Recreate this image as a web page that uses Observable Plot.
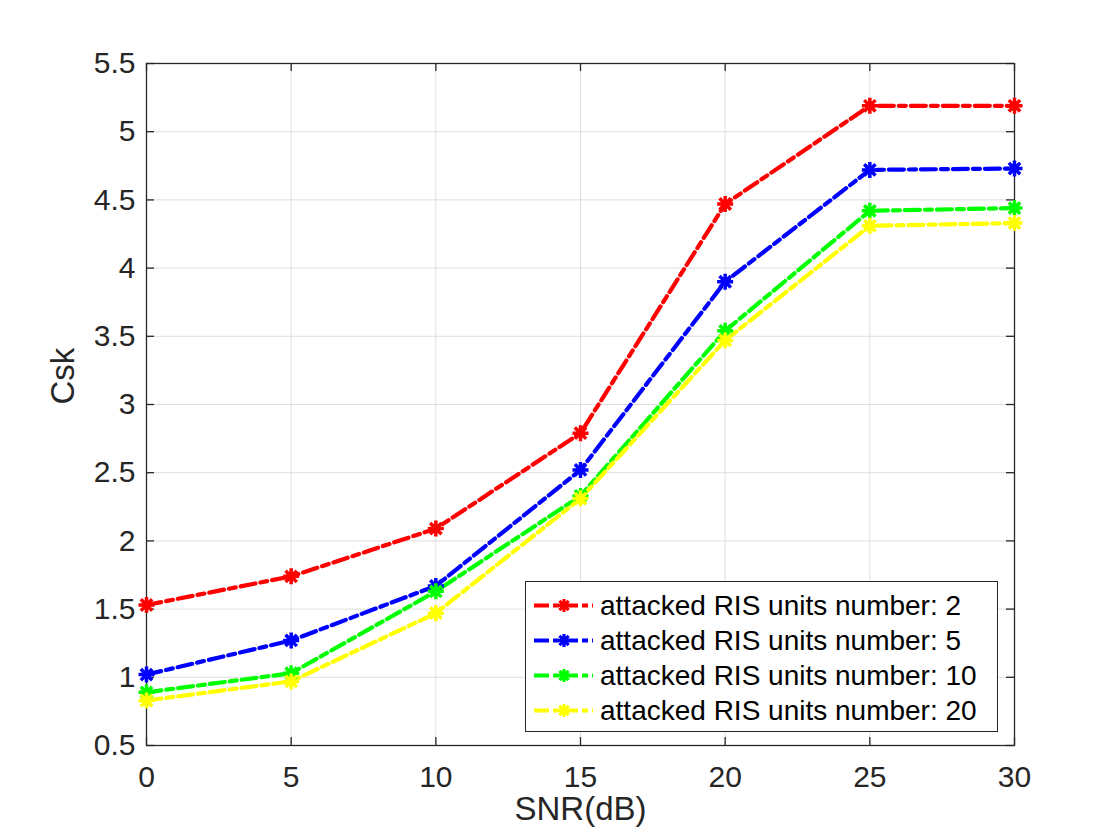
<!DOCTYPE html>
<html>
<head>
<meta charset="utf-8">
<script src="https://cdn.jsdelivr.net/npm/d3@7"></script>
<script src="https://cdn.jsdelivr.net/npm/@observablehq/plot@0.6"></script>
<style>
  html, body { margin: 0; padding: 0; background: #fff; }
  #wrap { position: relative; width: 1120px; height: 840px; font-family: "Liberation Sans", Arial, Helvetica, sans-serif; }
  #legend { position: absolute; left: 525px; top: 581px; width: 473px; height: 151px; border: 1.2px solid #262626; background: #fff; box-sizing: border-box; }
  .row { position: absolute; left: 0; height: 35px; display: flex; align-items: center; }
  .row span { font-size: 28px; color: #000; margin-left: 4px; white-space: nowrap; }
</style>
</head>
<body>
<div id="wrap"><div id="legend"></div></div>
<script>
// ---- data ----
const snr = [0, 5, 10, 15, 20, 25, 30];
const seriesNames = [
  "attacked RIS units number: 2",
  "attacked RIS units number: 5",
  "attacked RIS units number: 10",
  "attacked RIS units number: 20"
];
const csk2  = [1.53, 1.74, 2.09, 2.79, 4.47, 5.19, 5.19];
const csk5  = [1.02, 1.27, 1.67, 2.52, 3.90, 4.72, 4.73];
const csk10 = [0.89, 1.03, 1.63, 2.33, 3.54, 4.42, 4.44];
const csk20 = [0.83, 0.97, 1.47, 2.31, 3.47, 4.31, 4.33];
const seriesColors = ["#ff0000", "#0000ff", "#00ff00", "#ffff00"];
const xTicks = [0, 5, 10, 15, 20, 25, 30];
const yTicks = [0.5, 1, 1.5, 2, 2.5, 3, 3.5, 4, 4.5, 5, 5.5];
const xLabel = "SNR(dB)";
const yLabel = "Csk";

const allSeries = [csk2, csk5, csk10, csk20];
const rows = [];
allSeries.forEach((vals, s) => vals.forEach((v, i) => rows.push({series: seriesNames[s], snr: snr[i], csk: v})));

// 8-spoke asterisk marker like MATLAB "*"
const star8 = {
  draw(ctx, size) {
    const r = Math.sqrt(size / Math.PI);
    for (let k = 0; k < 4; k++) {
      const a = k * Math.PI / 4;
      ctx.moveTo(r * Math.cos(a), r * Math.sin(a));
      ctx.lineTo(-r * Math.cos(a), -r * Math.sin(a));
    }
  }
};

const ink = "#262626";
const dash = "15,5,7,5";

const chart = Plot.plot({
  width: 1120,
  height: 840,
  marginLeft: 146,
  marginRight: 106,
  marginTop: 63,
  marginBottom: 95,
  style: {fontFamily: "'Liberation Sans', Arial, Helvetica, sans-serif", color: ink, background: "#fff"},
  x: {domain: [0, 30], axis: null},
  y: {domain: [0.5, 5.5], axis: null},
  color: {domain: seriesNames, range: seriesColors},
  marks: [
    Plot.ruleX(xTicks, {x: d => d, stroke: "#dedede", strokeWidth: 1}),
    Plot.ruleY(yTicks, {y: d => d, stroke: "#dedede", strokeWidth: 1}),
    Plot.frame({stroke: ink, strokeWidth: 1.3}),
    // inward ticks on all four sides
    Plot.ruleX(xTicks, {x: d => d, y1: 0.5, y2: 0.5, insetBottom: 8, stroke: ink, strokeWidth: 1.3}),
    Plot.ruleX(xTicks, {x: d => d, y1: 5.5, y2: 5.5, insetTop: 8, stroke: ink, strokeWidth: 1.3}),
    Plot.ruleY(yTicks, {y: d => d, x1: 0, x2: 0, insetLeft: 8, stroke: ink, strokeWidth: 1.3}),
    Plot.ruleY(yTicks, {y: d => d, x1: 30, x2: 30, insetRight: 8, stroke: ink, strokeWidth: 1.3}),
    Plot.axisX({ticks: xTicks, tickSize: 0, tickPadding: 20, fontSize: 30, tickFormat: d => String(d), label: null, color: ink}),
    Plot.axisY({ticks: yTicks, tickSize: 0, tickPadding: 11, fontSize: 30, tickFormat: d => String(d), label: null, color: ink}),
    Plot.text([xLabel], {frameAnchor: "bottom", lineAnchor: "middle", dy: 64, fontSize: 33, fill: ink, text: d => d}),
    Plot.text([yLabel], {frameAnchor: "left", lineAnchor: "middle", dx: -83, rotate: -90, fontSize: 33, fill: ink, text: d => d}),
    Plot.line(rows, {x: "snr", y: "csk", z: "series", stroke: "series", strokeWidth: 4.2, strokeDasharray: dash}),
    Plot.dot(rows, {x: "snr", y: "csk", stroke: "series", symbol: star8, r: 8, strokeWidth: 3.5})
  ]
});
document.getElementById("wrap").prepend(chart);

// legend
const legend = d3.select("#legend");
seriesNames.forEach((name, i) => {
  const row = legend.append("div").attr("class", "row").style("top", (6 + i * 35) + "px");
  const svg = row.append("svg").attr("width", 70).attr("height", 35);
  svg.append("line").attr("x1", 8).attr("x2", 67).attr("y1", 17.5).attr("y2", 17.5)
    .attr("stroke", seriesColors[i]).attr("stroke-width", 4).attr("stroke-dasharray", "15,4,6,4");
  const p = d3.path();
  star8.draw(p, Math.PI * 6.5 * 6.5);
  svg.append("path").attr("d", p.toString()).attr("transform", "translate(38,17.5)")
    .attr("stroke", seriesColors[i]).attr("stroke-width", 3.2).attr("fill", "none");
  row.append("span").text(name);
});
</script>
</body>
</html>
